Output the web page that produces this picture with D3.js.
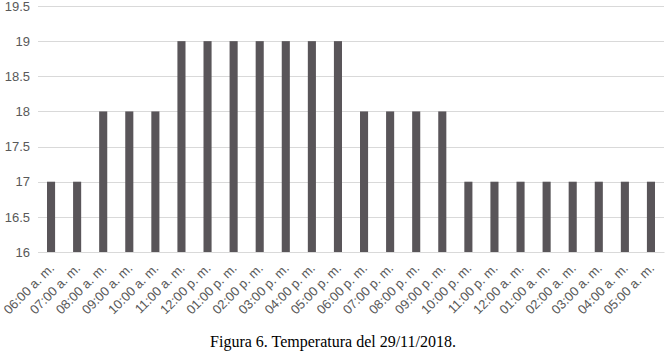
<!DOCTYPE html>
<html><head><meta charset="utf-8">
<script src="https://cdn.jsdelivr.net/npm/d3@7"></script>
<style>body{margin:0;background:#fff}svg{display:block}</style>
</head><body>
<svg id="c" width="667" height="356"></svg>
<script>
const categories = ["06:00 a. m.","07:00 a. m.","08:00 a. m.","09:00 a. m.","10:00 a. m.","11:00 a. m.","12:00 p. m.","01:00 p. m.","02:00 p. m.","03:00 p. m.","04:00 p. m.","05:00 p. m.","06:00 p. m.","07:00 p. m.","08:00 p. m.","09:00 p. m.","10:00 p. m.","11:00 p. m.","12:00 a. m.","01:00 a. m.","02:00 a. m.","03:00 a. m.","04:00 a. m.","05:00 a. m."];
const values = [17,17,18,18,18,19,19,19,19,19,19,19,18,18,18,18,17,17,17,17,17,17,17,17];
const yTicks = [16,16.5,17,17.5,18,18.5,19,19.5];
const caption = "Figura 6. Temperatura del 29/11/2018.";

(function(){
const svg = d3.select("#c");
const mL = 38, mR = 664, mT = 6, mB = 252;
const x = d3.scaleBand().domain(categories).range([mL, mR]).paddingInner(0.69).paddingOuter(0.345);
const y = d3.scaleLinear().domain([16, 19.5]).range([mB, mT]);

svg.append("g").selectAll("line").data(yTicks).join("line")
  .attr("x1", mL).attr("x2", mR)
  .attr("y1", d => Math.round(y(d)) + 0.5).attr("y2", d => Math.round(y(d)) + 0.5)
  .attr("stroke", "#d9d9d9").attr("stroke-width", 1);

const yAxis = d3.axisLeft(y).tickValues(yTicks).tickSize(0).tickPadding(0).tickFormat(d3.format("~g"));
const gy = svg.append("g").attr("transform", `translate(${mL - 8},0)`).call(yAxis);
gy.select(".domain").remove();
gy.selectAll("text").attr("font-family", "Liberation Sans, Arial, sans-serif").attr("font-size", 13).attr("fill", "#595959");

svg.append("g").selectAll("rect").data(values).join("rect")
  .attr("x", (d, i) => x(categories[i]))
  .attr("width", x.bandwidth())
  .attr("y", d => y(d))
  .attr("height", d => y(16) - y(d))
  .attr("fill", "#595559");

const xAxis = d3.axisBottom(x).tickSize(0).tickPadding(0);
const gx = svg.append("g").attr("transform", `translate(0,${mB})`).call(xAxis);
gx.select(".domain").attr("stroke", "#d9d9d9");
gx.selectAll("text")
  .attr("font-family", "Liberation Sans, Arial, sans-serif").attr("font-size", 13).attr("fill", "#595959")
  .attr("text-anchor", "end").attr("dy", null).attr("y", 0)
  .attr("transform", "translate(4,17) rotate(-45)");

svg.append("text").attr("x", 333).attr("y", 347).attr("text-anchor", "middle")
  .attr("font-family", "Liberation Serif, Times New Roman, serif").attr("font-size", 16).attr("fill", "#000")
  .text(caption);
})();
</script>
</body></html>
